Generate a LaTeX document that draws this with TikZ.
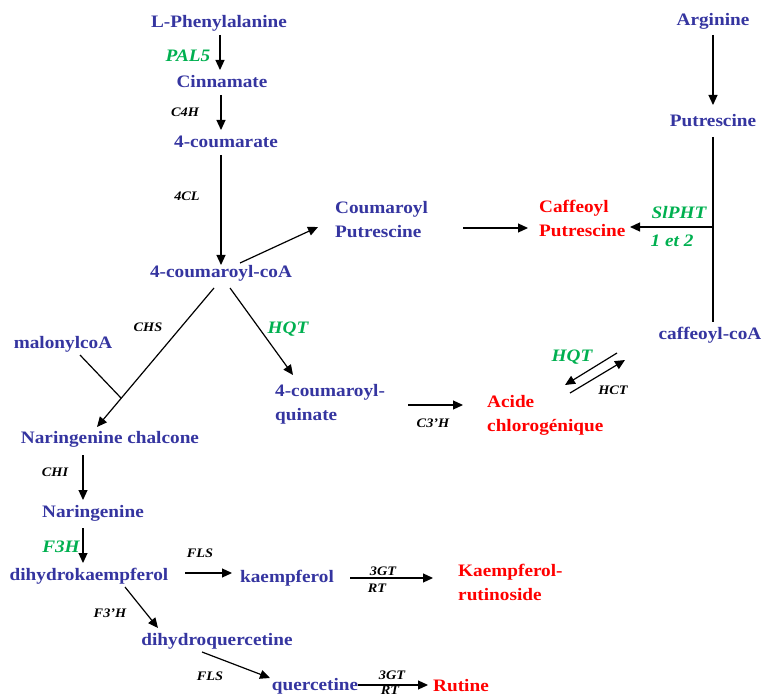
\documentclass[tikz,border=0pt]{standalone}
\usepackage{fontspec}
\setmainfont{Liberation Serif}[FakeStretch=1.1]
\usetikzlibrary{arrows.meta,calc}
\definecolor{metblue}{HTML}{3535A0}
\definecolor{prodred}{HTML}{FF0000}
\definecolor{enzgreen}{HTML}{00B050}
\tikzset{
  met/.style={font=\bfseries\fontsize{17.5}{24}\selectfont, text=metblue, inner sep=0pt},
  prod/.style={font=\bfseries\fontsize{17.5}{24}\selectfont, text=prodred, inner sep=0pt},
  enz/.style={font=\bfseries\itshape\fontsize{13}{15}\selectfont, text=black, inner sep=0pt},
  genz/.style={font=\bfseries\itshape\fontsize{17.5}{26}\selectfont, text=enzgreen, inner sep=0pt},
  arr/.style={line width=1.2pt, -{Triangle[length=10pt,width=9pt]}},
  ln/.style={line width=1.2pt}
}
\begin{document}
\begin{tikzpicture}[x=1pt,y=-1pt]
\useasboundingbox (0,0) rectangle (764,695);
% metabolites
\node[met] (phe) at (219,23) {L-Phenylalanine};
\node[met] (cin) at (222,82) {Cinnamate};
\node[met] (cum) at (226,142) {4-coumarate};
\node[met] (coa) at (221,273) {4-coumaroyl-coA};
\node[met, align=left, anchor=west] (cput) at (335,220) {Coumaroyl\\Putrescine};
\node[prod, align=left, anchor=west] (caf) at (539,218) {Caffeoyl\\Putrescine};
\node[met] (arg) at (713,21) {Arginine};
\node[met] (put) at (713,121) {Putrescine};
\node[met] (ccoa) at (710,335) {caffeoyl-coA};
\node[met] (mal) at (63,344) {malonylcoA};
\node[met, align=left, anchor=west] (cq) at (275,404) {4-coumaroyl-\\quinate};
\node[prod, align=left, anchor=west] (acg) at (487,415) {Acide\\chlorogénique};
\node[met] (nch) at (110,439) {Naringenine chalcone};
\node[met] (nar) at (93,513) {Naringenine};
\node[met] (dhk) at (89,576) {dihydrokaempferol};
\node[met] (kae) at (287,578) {kaempferol};
\node[prod, align=left, anchor=west] (kr) at (458,582) {Kaempferol-\\rutinoside};
\node[met] (dhq) at (217,641) {dihydroquercetine};
\node[met] (que) at (315,686) {quercetine};
\node[prod] (rut) at (461,686) {Rutine};
% enzymes
\node[genz] (pal) at (188,56) {PAL5};
\node[enz] (c4h) at (185,112) {C4H};
\node[enz] (cl4) at (187,196) {4CL};
\node[genz] (slpht) at (679,213) {SlPHT};
\node[genz] (etd) at (672,241) {1 et 2};
\node[genz] (hqt1) at (288,329) {HQT};
\node[enz] (chs) at (148,327) {CHS};
\node[genz] (hqt2) at (572,357) {HQT};
\node[enz] (hct) at (613,390) {HCT};
\node[enz] (c3h) at (433,423) {C3’H};
\node[enz] (chi) at (55,472) {CHI};
\node[genz] (f3h) at (61,547) {F3H};
\node[enz] (fls1) at (200,553) {FLS};
\node[enz] (gt1) at (383,571) {3GT};
\node[enz] (rt1) at (377,588) {RT};
\node[enz] (f3ph) at (110,613) {F3’H};
\node[enz] (fls2) at (210,676) {FLS};
\node[enz] (gt2) at (392,675) {3GT};
\node[enz] (rt2) at (390,690) {RT};
% connectors
\draw[arr] ($(phe)+(1,12)$) -- ($(cin)+(-2,-12)$);
\draw[arr] ($(cin)+(-1,13)$) -- ($(cum)+(-5,-12)$);
\draw[arr] ($(cum)+(-5,13)$) -- ($(coa)+(0,-8)$);
\draw[arr] ($(coa)+(19,-10)$) -- ($(cput.west)+(-17,7)$);
\draw[arr] ($(cput.west)+(128,8)$) -- ($(caf.west)+(-11,10)$);
\draw[arr] ($(arg)+(0,14)$) -- ($(put)+(0,-16)$);
\draw[ln] ($(put)+(0,16)$) -- ($(ccoa)+(3,-13)$);
\coordinate (junc) at ($(put)+(0,106)$);
\draw[arr] (junc) -- ($(caf.west)+(91,9)$);
\draw[arr] ($(coa)+(-7,15)$) -- ($(nch)+(-13,-12)$);
\draw[ln] ($(mal)+(17,11)$) -- ($(coa)+(-100,125)$);
\draw[arr] ($(coa)+(9,15)$) -- ($(cq.west)+(18,-29)$);
\draw[arr] ($(cq.west)+(133,1)$) -- ($(acg.west)+(-24,-10)$);
\draw[arr] ($(ccoa)+(-93,18)$) -- ($(acg.west)+(78,-30)$);
\draw[arr] ($(acg.west)+(83,-22)$) -- ($(ccoa)+(-85,25)$);
\draw[arr] ($(nch)+(-27,16)$) -- ($(nar)+(-10,-13)$);
\draw[arr] ($(nar)+(-10,15)$) -- ($(dhk)+(-6,-13)$);
\draw[arr] ($(dhk)+(96,-3)$) -- ($(kae)+(-55,-5)$);
\draw[arr] ($(kae)+(63,0)$) -- ($(kr.west)+(-25,-4)$);
\draw[arr] ($(dhk)+(36,11)$) -- ($(dhq)+(-59,-13)$);
\draw[arr] ($(dhq)+(-15,11)$) -- ($(que)+(-45,-8)$);
\draw[arr] ($(que)+(43,-1)$) -- ($(rut)+(-33,-1)$);
\end{tikzpicture}
\end{document}
